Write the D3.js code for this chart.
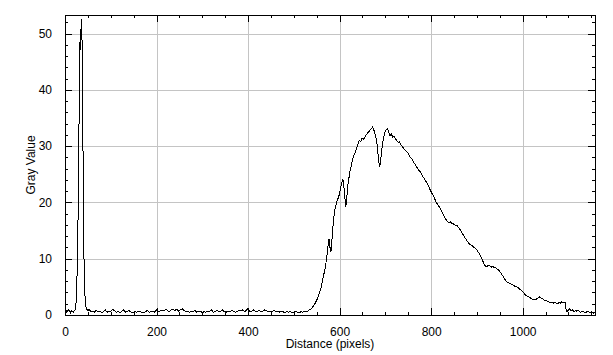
<!DOCTYPE html>
<html>
<head>
<meta charset="utf-8">
<script src="https://cdn.jsdelivr.net/npm/d3@7"></script>
<style>
  body { margin: 0; background: #fff; }
  text { font-family: 'Liberation Sans', Arial, sans-serif; font-size: 12px; fill: #000; }
</style>
</head>
<body>
<div id="chart"></div>
<script>
// profile: distance along line (pixels) and gray value
let distance = [
  0, 2, 4, 6, 8, 10, 12, 14, 16, 18, 20, 22, 24, 26, 28, 30, 31, 32, 33, 34, 35, 36, 37, 38, 39, 40,
  41, 42, 43, 44, 45, 46, 48, 50, 53, 56, 60, 64, 68, 72, 76, 80, 84, 88, 92, 96, 100, 104, 108, 112,
  116, 120, 124, 128, 132, 136, 140, 144, 148, 152, 156, 160, 164, 168, 172, 176, 180, 184, 188, 192,
  196, 200, 204, 208, 212, 216, 220, 224, 228, 232, 236, 240, 244, 248, 252, 256, 260, 264, 268, 272,
  276, 280, 284, 288, 292, 296, 300, 304, 308, 312, 316, 320, 324, 328, 332, 336, 340, 344, 348, 352,
  356, 360, 364, 368, 372, 376, 380, 384, 388, 392, 396, 400, 404, 408, 412, 416, 420, 424, 428, 432,
  436, 440, 444, 448, 452, 456, 460, 464, 468, 472, 476, 480, 484, 488, 492, 496, 500, 504, 508, 512,
  516, 520, 524, 528, 532, 536, 540, 544, 548, 552, 556, 560, 563, 566, 569, 572, 575, 577, 579, 581,
  583, 586, 589, 592, 595, 598, 601, 603, 605, 607, 609, 611, 613, 615, 617, 619, 622, 625, 628, 631,
  634, 637, 640, 643, 646, 649, 652, 655, 658, 661, 664, 667, 670, 672, 674, 676, 678, 680, 682, 684,
  686, 688, 690, 692, 694, 696, 698, 700, 702, 704, 706, 708, 710, 713, 716, 719, 722, 725, 728, 731,
  734, 737, 740, 743, 746, 749, 752, 755, 758, 761, 764, 767, 770, 773, 776, 779, 782, 785, 788, 791,
  794, 797, 800, 803, 806, 809, 812, 815, 818, 821, 824, 827, 830, 833, 836, 839, 842, 845, 848, 851,
  854, 857, 860, 863, 866, 869, 872, 875, 878, 881, 884, 887, 890, 893, 896, 899, 902, 905, 908, 911,
  914, 917, 920, 923, 926, 929, 932, 935, 938, 941, 944, 947, 950, 953, 956, 959, 962, 965, 968, 971,
  974, 977, 980, 983, 986, 989, 992, 995, 998, 1001, 1004, 1007, 1010, 1013, 1016, 1019, 1022, 1025,
  1028, 1031, 1034, 1037, 1040, 1043, 1046, 1049, 1052, 1055, 1058, 1061, 1064, 1067, 1070, 1073,
  1076, 1079, 1082, 1085, 1088, 1091, 1093, 1095, 1097, 1100, 1103, 1106, 1109, 1112, 1115, 1118,
  1121, 1124, 1127, 1130, 1133, 1136, 1139, 1142, 1145, 1148, 1151, 1154, 1157
]

let grayValue = [
  0.6, 0.9, 0.5, 0.7, 1.0, 0.6, 0.4, 0.8, 0.6, 0.5, 0.7, 0.9, 2.0, 6, 14, 27, 38, 46, 49, 47, 51, 52.5, 50, 44, 33, 22,
  13, 7.5, 4.5, 3, 2, 1.4, 1.0, 0.8, 1.0, 0.6, 0.7, 0.5, 0.8, 0.6, 0.7, 0.4, 0.6, 0.9, 0.5, 0.7, 0.6, 1.0, 0.8, 0.5,
  0.6, 0.4, 0.7, 0.9, 0.5, 0.6, 0.8, 0.5, 0.4, 0.6, 0.5, 0.7, 0.6, 0.5, 0.4, 0.6, 0.8, 0.5, 0.6, 0.7,
  0.5, 0.9, 0.6, 0.7, 0.8, 0.7, 1.0, 0.8, 0.6, 0.9, 1.1, 0.8, 1.0, 0.7, 0.9, 1.1, 0.8, 0.6, 0.7, 0.5,
  0.7, 0.6, 0.8, 0.5, 0.6, 0.7, 0.4, 0.6, 0.5, 0.7, 0.6, 0.9, 0.5, 0.6, 0.8, 0.6, 0.7, 0.9, 0.6, 0.5,
  0.7, 0.6, 0.8, 0.7, 0.5, 0.6, 0.8, 0.7, 0.9, 0.6, 0.8, 1.2, 0.6, 0.7, 0.9, 0.7, 0.6, 0.8, 0.6, 0.7,
  0.9, 0.8, 0.6, 0.7, 0.5, 0.8, 0.7, 0.6, 0.5, 0.7, 0.6, 0.4, 0.6, 0.5, 0.6, 0.4, 0.5, 0.7, 0.5, 0.4,
  0.6, 0.5, 0.7, 0.6, 0.8, 1.0, 1.3, 1.7, 2.3, 3.0, 3.9, 5.0, 6.2, 7.4, 8.5, 10.4, 12.5, 13.5, 12.0, 11.2,
  13.0, 16.3, 18.5, 19.5, 20.4, 21.0, 22.0, 22.9, 23.5, 24.2, 23.0, 21.5, 19.2, 19.8, 22.5, 23.6, 25.2, 26.4, 27.5, 28.3,
  28.8, 29.6, 30.4, 31.0, 30.8, 31.4, 31.2, 31.6, 32.0, 32.3, 32.6, 32.9, 33.1, 33.4, 33.0, 32.6, 32.0, 31.2, 30.3, 28.6,
  27.0, 26.4, 27.8, 29.2, 30.6, 31.4, 32.2, 32.7, 32.9, 33.1, 32.8, 32.3, 31.9, 32.2, 31.6, 31.8, 31.3, 31.0, 30.7, 30.8,
  30.2, 29.9, 29.6, 29.3, 29.0, 28.8, 28.3, 28.0, 27.7, 27.2, 26.9, 26.4, 26.1, 25.7, 25.5, 25.0, 24.6, 24.2, 23.8, 23.4,
  22.9, 22.4, 21.9, 21.4, 21.0, 20.4, 19.9, 19.5, 19.2, 18.8, 18.2, 17.8, 17.3, 16.9, 16.6, 16.4, 16.6, 16.3, 16.2, 16.0,
  15.9, 15.9, 15.5, 15.2, 14.8, 14.4, 14.0, 13.6, 13.2, 12.9, 12.6, 12.4, 12.3, 12.0, 11.9, 11.7, 11.3, 10.9, 10.4, 9.9,
  9.4, 8.8, 8.6, 8.7, 8.8, 8.7, 8.5, 8.6, 8.4, 8.4, 8.2, 8.0, 7.7, 7.4, 7.0, 6.6, 6.2, 5.9, 5.8, 5.6,
  5.5, 5.4, 5.3, 5.1, 5.0, 4.9, 4.7, 4.5, 4.3, 4.1, 3.7, 3.5, 3.3, 3.2, 3.1, 2.9, 2.8, 2.8,
  2.7, 2.9, 3.1, 3.2, 3.0, 2.9, 2.7, 2.6, 2.5, 2.4, 2.3, 2.2, 2.2, 2.1, 2.3, 2.1,
  2.0, 2.2, 2.1, 2.3, 2.2, 2.3, 2.2, 0.9, 0.6, 0.9, 1.1, 0.7, 0.9, 0.6, 0.8, 0.7,
  0.9, 0.6, 0.5, 0.7, 0.6, 0.4, 0.5, 0.7, 0.5, 0.4, 0.6, 0.3, 0.5
]

let xMajor = [0, 200, 400, 600, 800, 1000]
let yMajor = [0, 10, 20, 30, 40, 50]

let margin = { top: 15, left: 65, right: 18, bottom: 40 }
let width = 613 - margin.left - margin.right
let height = 355 - margin.top - margin.bottom

let svg = d3
  .select('#chart')
  .append('svg')
  .attr('width', 613)
  .attr('height', 355)
  .append('g')
  .attr('transform', 'translate(' + margin.left + ',' + margin.top + ')')

let xScale = d3.scaleLinear().domain([0, 1158]).range([0, width])
let yScale = d3.scaleLinear().domain([0, 53.3]).range([height, 0])

let xMinor = d3.range(0, 1158, 50)
let yMinor = d3.range(0, 53.3, 2)

// grid
svg
  .selectAll('.vgrid')
  .data(xMajor.filter(d => d > 0))
  .enter()
  .append('line')
  .attr('class', 'vgrid')
  .attr('x1', d => Math.round(xScale(d)) + 0.5)
  .attr('x2', d => Math.round(xScale(d)) + 0.5)
  .attr('y1', 0)
  .attr('y2', height)
  .attr('stroke', '#c4c4c4')

svg
  .selectAll('.hgrid')
  .data(yMajor.filter(d => d > 0))
  .enter()
  .append('line')
  .attr('class', 'hgrid')
  .attr('y1', d => Math.round(yScale(d)) + 0.5)
  .attr('y2', d => Math.round(yScale(d)) + 0.5)
  .attr('x1', 0)
  .attr('x2', width)
  .attr('stroke', '#c4c4c4')

// profile line
let line = d3
  .line()
  .x((d, i) => xScale(distance[i]))
  .y(d => yScale(d))

svg
  .append('path')
  .datum(grayValue)
  .attr('d', line)
  .attr('fill', 'none')
  .attr('stroke', '#000')
  .attr('stroke-width', 1)
  .attr('shape-rendering', 'crispEdges')

// inward ticks on all four sides
function addAxis(axis, transform) {
  let g = svg.append('g').attr('transform', transform).call(axis)
  g.select('.domain').remove()
  g.selectAll('line').attr('shape-rendering', 'crispEdges')
  return g
}

addAxis(d3.axisBottom(xScale).tickValues(xMinor).tickSize(-3).tickFormat(''), `translate(0,${height})`)
addAxis(d3.axisTop(xScale).tickValues(xMinor).tickSize(-3).tickFormat(''), 'translate(0,0)')
addAxis(d3.axisLeft(yScale).tickValues(yMinor).tickSize(-3).tickFormat(''), 'translate(0,0)')
addAxis(d3.axisRight(yScale).tickValues(yMinor).tickSize(-3).tickFormat(''), `translate(${width},0)`)

let xAxis = addAxis(
  d3.axisBottom(xScale).tickValues(xMajor).tickSize(-7).tickPadding(12).tickFormat(d3.format('d')),
  `translate(0,${height})`
)
addAxis(d3.axisTop(xScale).tickValues(xMajor).tickSize(-7).tickFormat(''), 'translate(0,0)')
let yAxis = addAxis(
  d3.axisLeft(yScale).tickValues(yMajor).tickSize(-7).tickPadding(13).tickFormat(d3.format('d')),
  'translate(0,0)'
)
addAxis(d3.axisRight(yScale).tickValues(yMajor).tickSize(-7).tickFormat(''), `translate(${width},0)`)

xAxis.selectAll('text').style('font-size', '12px').style('font-family', 'Liberation Sans, Arial, sans-serif')
yAxis.selectAll('text').style('font-size', '12px').style('font-family', 'Liberation Sans, Arial, sans-serif')

// frame
svg
  .append('rect')
  .attr('x', 0.5)
  .attr('y', 0.5)
  .attr('width', width)
  .attr('height', height)
  .attr('fill', 'none')
  .attr('stroke', '#000')
  .attr('shape-rendering', 'crispEdges')

svg
  .append('text')
  .text('Distance (pixels)')
  .attr('x', width / 2)
  .attr('y', height + 33)
  .attr('text-anchor', 'middle')

svg
  .append('text')
  .text('Gray Value')
  .attr('transform', `translate(-30,${height / 2}) rotate(-90)`)
  .attr('text-anchor', 'middle')
</script>
</body>
</html>
